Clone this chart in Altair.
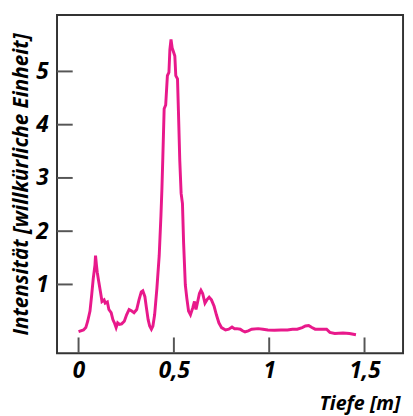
import altair as alt
import pandas as pd

depth = [0.0, 0.026, 0.038, 0.048, 0.06, 0.068, 0.077, 0.086, 0.089, 0.094, 0.098, 0.106, 0.115, 0.123,
         0.134, 0.140, 0.151, 0.159, 0.171, 0.180, 0.188, 0.197, 0.205, 0.214, 0.226, 0.240, 0.252,
         0.265, 0.279, 0.291, 0.305, 0.317, 0.329, 0.337, 0.348, 0.356, 0.365, 0.373, 0.382, 0.390,
         0.399, 0.411, 0.423, 0.432, 0.437, 0.442, 0.449, 0.457, 0.466, 0.474, 0.479, 0.485, 0.491,
         0.497, 0.505, 0.510, 0.519, 0.524, 0.531, 0.538, 0.545, 0.551, 0.560, 0.568, 0.577, 0.587,
         0.599, 0.608, 0.616, 0.625, 0.634, 0.642, 0.651, 0.663, 0.673, 0.685, 0.697, 0.711, 0.723,
         0.736, 0.750, 0.771, 0.788, 0.805, 0.818, 0.830, 0.848, 0.860, 0.873, 0.890, 0.908, 0.942,
         0.967, 0.993, 1.027, 1.062, 1.096, 1.122, 1.147, 1.173, 1.190, 1.207, 1.224, 1.241, 1.267,
         1.301, 1.318, 1.344, 1.387, 1.421, 1.455]
intensity = [0.115, 0.146, 0.19, 0.31, 0.50, 0.77, 1.11, 1.36, 1.54, 1.36, 1.23, 1.05, 0.86, 0.68,
             0.71, 0.65, 0.67, 0.53, 0.47, 0.34, 0.28, 0.19, 0.28, 0.25, 0.26, 0.31, 0.43,
             0.53, 0.50, 0.47, 0.53, 0.71, 0.86, 0.88, 0.77, 0.56, 0.34, 0.22, 0.16, 0.22,
             0.43, 0.93, 1.54, 2.28, 2.77, 3.38, 4.30, 4.37, 4.92, 4.98, 5.41, 5.60, 5.44,
             5.38, 5.29, 4.92, 4.86, 4.24, 3.32, 2.71, 2.52, 1.78, 0.99, 0.74, 0.50, 0.43,
             0.56, 0.68, 0.53, 0.68, 0.83, 0.89, 0.83, 0.65, 0.71, 0.76, 0.71, 0.59, 0.43,
             0.28, 0.19, 0.146, 0.16, 0.20, 0.17, 0.17, 0.16, 0.13, 0.11, 0.13, 0.16, 0.17,
             0.16, 0.146, 0.14, 0.146, 0.146, 0.16, 0.16, 0.19, 0.22, 0.23, 0.19, 0.16, 0.16,
             0.16, 0.10, 0.08, 0.09, 0.08, 0.055]

x_ticks = [0, 0.5, 1, 1.5]
y_ticks = [1, 2, 3, 4, 5]
peak_label = "49 cm"
peak_pos = [0.605, 5.44]

W, H = 353, 345
TICK = 16
FONT = "Open Sans"
INK = "black"
LBL = "replace(format(datum.value, '~g'), '.', ',')"

df = pd.DataFrame({"depth": depth, "intensity": intensity})
xt = pd.DataFrame({"v": x_ticks})
yt = pd.DataFrame({"v": y_ticks})

xs = alt.Scale(domain=[-0.113, 1.702], nice=False, zero=False)
ys = alt.Scale(domain=[-0.29, 6.06], nice=False, zero=False)

yticks = alt.Chart(yt).mark_rule(color="#555555", strokeWidth=2).encode(
    y=alt.Y("v:Q", scale=ys, axis=alt.Axis(
        values=y_ticks, title="Intensität [willkürliche Einheit]", grid=False,
        domain=False, ticks=False, labelPadding=9, labelFontSize=23, labelFont=FONT,
        labelFontWeight="bold", labelFontStyle="italic", labelColor=INK, labelExpr=LBL,
        titleFont=FONT, titleFontSize=21, titleFontWeight="bold", titleFontStyle="italic",
        titleColor=INK, titleAlign="center", titleBaseline="alphabetic", titleAngle=270,
        titleX=-30, titleY=H / 2)),
    x=alt.value(0), x2=alt.value(TICK))

xticks = alt.Chart(xt).mark_rule(color="#555555", strokeWidth=2).encode(
    x=alt.X("v:Q", scale=xs, axis=alt.Axis(
        values=x_ticks, title="Tiefe [m]", grid=False, domain=False, ticks=False,
        labelPadding=7, labelFontSize=23, labelFont=FONT, labelFontWeight="bold",
        labelFontStyle="italic", labelColor=INK, labelExpr=LBL,
        titleFont=FONT, titleFontSize=20, titleFontWeight="bold", titleFontStyle="italic",
        titleColor=INK, titleAlign="right", titleBaseline="alphabetic",
        titleX=W - 3, titleY=57)),
    y=alt.value(H), y2=alt.value(H - TICK))

line = alt.Chart(df).mark_line(color="#e8198b", strokeWidth=3).encode(
    x=alt.X("depth:Q", scale=xs), y=alt.Y("intensity:Q", scale=ys))

chart = (yticks + xticks + line).properties(
    width=W, height=H,
    autosize=alt.AutoSizeParams(type="none"),
    padding={"left": 50, "top": 3, "right": 2, "bottom": 60},
).configure_view(stroke="#333333", strokeWidth=2)

chart.save("out.html", embed_options={"renderer": "svg", "actions": False})
